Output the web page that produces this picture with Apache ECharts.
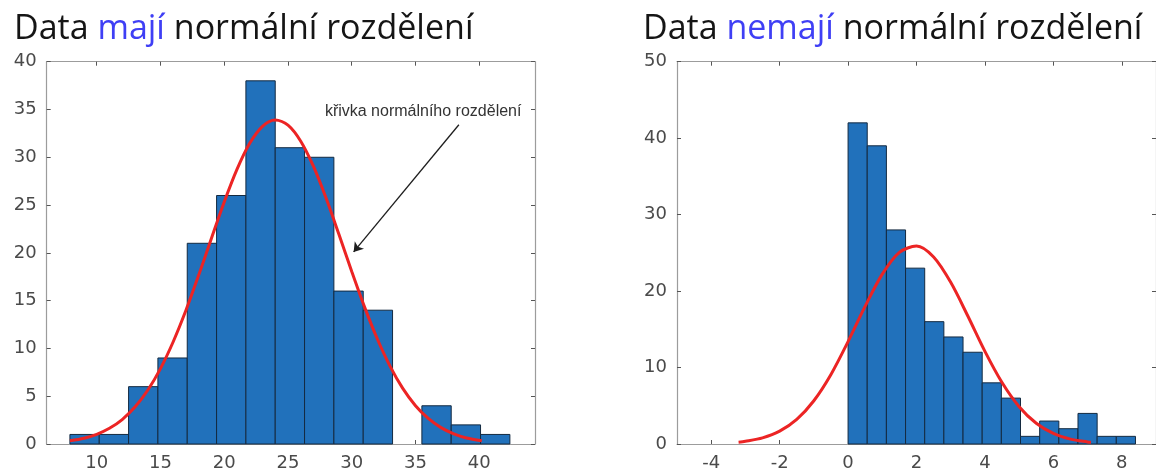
<!DOCTYPE html>
<html>
<head>
<meta charset="utf-8">
<title>Normální rozdělení</title>
<script src="https://cdn.jsdelivr.net/npm/echarts@6/dist/echarts.min.js"></script>
<style>
  html, body { margin: 0; padding: 0; background: #ffffff; }
  #chart { width: 1156px; height: 474px; }
</style>
</head>
<body>
<div id="chart"></div>
<script>
// Left panel: histogram of roughly normal data (bin edges + counts)
const leftEdges = [7.9, 10.2, 12.5, 14.8, 17.1, 19.4, 21.7, 24.0, 26.3, 28.6, 30.9, 33.2, 35.5, 37.8, 40.1, 42.4];
const leftCounts = [1, 1, 6, 9, 21, 26, 38, 31, 30, 16, 14, 0, 4, 2, 1];
// Fitted normal curve over the left histogram
const leftCurveX = [7.9, 9, 10, 11, 12, 13, 14, 15, 16, 17, 18, 19, 20, 21, 22, 23, 24, 25, 26, 27, 28, 29, 30, 31, 32, 33, 34, 35, 36, 37, 38, 39, 40.2];
const leftCurveY = [0.33, 0.60, 1.01, 1.64, 2.56, 3.86, 5.62, 7.89, 10.70, 13.99, 17.67, 21.53, 25.32, 28.73, 31.46, 33.24, 33.90, 33.36, 31.68, 29.04, 25.68, 21.92, 18.05, 14.35, 11.01, 8.15, 5.82, 4.01, 2.67, 1.71, 1.06, 0.63, 0.33];
const leftTicks = [10, 15, 20, 25, 30, 35, 40];

// Right panel: skewed data
const rightEdges = [0, 0.56, 1.12, 1.68, 2.24, 2.80, 3.36, 3.92, 4.48, 5.04, 5.60, 6.16, 6.72, 7.28, 7.84, 8.40];
const rightCounts = [42, 39, 28, 23, 16, 14, 12, 8, 6, 1, 3, 2, 4, 1, 1];
const rightCurveX = [-3.2, -3, -2.5, -2, -1.5, -1, -0.5, 0, 0.5, 1, 1.5, 2, 2.5, 3, 3.5, 4, 4.5, 5, 5.5, 6, 6.5, 7, 7.1];
const rightCurveY = [0.24, 0.35, 0.80, 1.68, 3.22, 5.66, 9.10, 13.39, 18.03, 22.22, 25.07, 25.88, 24.45, 21.14, 16.74, 12.12, 8.04, 4.88, 2.71, 1.38, 0.64, 0.27, 0.23];
const rightTicks = [-4, -2, 0, 2, 4, 6, 8];

// Arrow + caption pointing at the left curve (axis coordinates)
const noteText = 'křivka normálního rozdělení';
const notePos = [35.6, 34.8];
const arrowFrom = [38.4, 33.4];
const arrowTo = [30.15, 20.1];

const BAR_FILL = '#2171bb';
const BAR_EDGE = '#142a40';
const CURVE = '#ec2424';
const BOX = '#9c9c9c';
const TICK_TXT = '#4a4a4a';
const LABEL_FONT = 'DejaVu Sans';

function binData(edges, counts) {
  return counts.map((c, i) => [edges[i], edges[i + 1], c]);
}
function pairs(xs, ys) {
  return xs.map((x, i) => [x, ys[i]]);
}
function renderBin(params, api) {
  const h = api.value(2);
  if (!h) return null;
  const p0 = api.coord([api.value(0), 0]);
  const p1 = api.coord([api.value(1), h]);
  return {
    type: 'rect',
    shape: { x: p0[0], y: p1[1], width: p1[0] - p0[0], height: p0[1] - p1[1] },
    style: { fill: BAR_FILL, stroke: BAR_EDGE, lineWidth: 1 }
  };
}

function xAxes(gridIndex, min, max, ticks) {
  const common = {
    type: 'value', gridIndex, min, max,
    axisLine: { show: true, onZero: false, lineStyle: { color: BOX, width: 1.2 } },
    axisTick: { show: true, inside: true, length: 4, customValues: ticks, lineStyle: { color: '#555', width: 1 } },
    splitLine: { show: false }
  };
  return [
    Object.assign({}, common, {
      position: 'bottom',
      axisLabel: { show: true, customValues: ticks, fontSize: 18, color: TICK_TXT, fontFamily: LABEL_FONT, margin: 10 }
    }),
    Object.assign({}, common, { position: 'top', axisLabel: { show: false } })
  ];
}
function yAxes(gridIndex, max, interval) {
  const common = {
    type: 'value', gridIndex, min: 0, max, interval,
    axisLine: { show: true, onZero: false, lineStyle: { color: BOX, width: 1.2 } },
    axisTick: { show: true, inside: true, length: 4, lineStyle: { color: '#555', width: 1 } },
    splitLine: { show: false }
  };
  return [
    Object.assign({}, common, {
      position: 'left',
      axisLabel: { show: true, fontSize: 18, color: TICK_TXT, fontFamily: LABEL_FONT, margin: 10 }
    }),
    Object.assign({}, common, { position: 'right', axisLabel: { show: false } })
  ];
}

const titleRich = {
  n: { fontFamily: 'Open Sans', fontSize: 34, fontWeight: 'normal', color: '#151515' },
  b: { fontFamily: 'Open Sans', fontSize: 34, fontWeight: 'normal', color: '#3f3ff5' }
};

const option = {
  animation: false,
  backgroundColor: '#ffffff',
  title: [
    { text: '{n|Data }{b|mají}{n| normální rozdělení}', left: 9, top: 7, textStyle: { fontWeight: 'normal', rich: titleRich } },
    { text: '{n|Data }{b|nemají}{n| normální rozdělení}', left: 638, top: 7, textStyle: { fontWeight: 'normal', rich: titleRich } }
  ],
  grid: [
    { left: 46.7, top: 61.7, width: 488.3, height: 382.3 },
    { left: 677, top: 61.7, width: 493, height: 382.3 }
  ],
  xAxis: [].concat(xAxes(0, 6.08, 44.37, leftTicks), xAxes(1, -5, 9, rightTicks)),
  yAxis: [].concat(yAxes(0, 40, 5), yAxes(1, 50, 10)),
  series: [
    {
      type: 'custom', xAxisIndex: 0, yAxisIndex: 0,
      renderItem: renderBin, encode: { x: [0, 1], y: 2 },
      data: binData(leftEdges, leftCounts), silent: true, z: 2
    },
    {
      type: 'line', xAxisIndex: 0, yAxisIndex: 0,
      data: pairs(leftCurveX, leftCurveY), smooth: 0.3, showSymbol: false,
      lineStyle: { color: CURVE, width: 3 }, silent: true, z: 3,
      markLine: {
        silent: true, symbol: ['none', 'arrow'], symbolSize: 9,
        lineStyle: { color: '#1e1e1e', width: 1.3, type: 'solid' },
        label: { show: false },
        data: [[{ coord: arrowFrom }, { coord: arrowTo }]]
      },
      markPoint: {
        silent: true, symbol: 'rect', symbolSize: 1,
        itemStyle: { color: 'rgba(0,0,0,0)' },
        label: {
          show: true, position: 'inside', formatter: noteText,
          fontFamily: 'Liberation Sans', fontSize: 16, color: '#333333'
        },
        data: [{ coord: notePos }]
      }
    },
    {
      type: 'custom', xAxisIndex: 2, yAxisIndex: 2,
      renderItem: renderBin, encode: { x: [0, 1], y: 2 },
      data: binData(rightEdges, rightCounts), silent: true, z: 2
    },
    {
      type: 'line', xAxisIndex: 2, yAxisIndex: 2,
      data: pairs(rightCurveX, rightCurveY), smooth: 0.3, showSymbol: false,
      lineStyle: { color: CURVE, width: 3 }, silent: true, z: 3
    }
  ]
};

const chart = echarts.init(document.getElementById('chart'), null, { renderer: 'canvas' });
chart.setOption(option);
</script>
</body>
</html>
